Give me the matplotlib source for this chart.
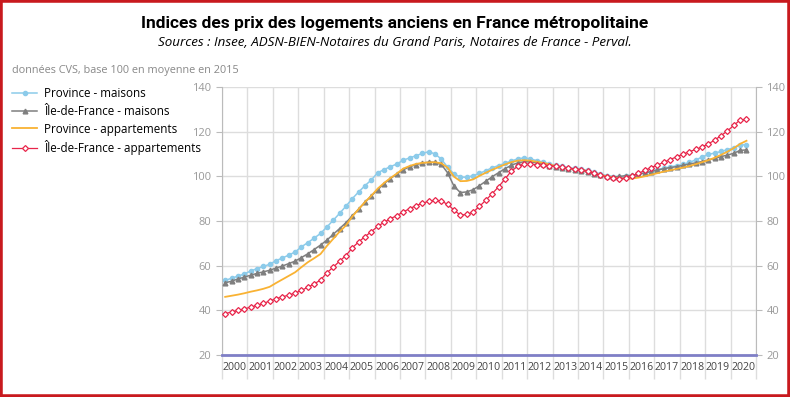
import numpy as np
import matplotlib.pyplot as plt
from matplotlib.patches import Rectangle

# quarterly indices, 2000T1 .. 2020T3 (base 100 = 2015)
years = list(range(2000, 2021))
quarters = [(y, q) for y in years for q in (1, 2, 3, 4)][:83]

province_maisons = [
    53.4, 54.3, 55.3, 56.2,
    57.6, 58.6, 59.6, 60.6,
    62.2, 63.4, 64.7, 66.1,
    68.4, 70.3, 72.3, 74.4,
    77.3, 80.3, 83.4, 86.6,
    90.0, 93.0, 95.8, 98.4,
    101.6, 103.0, 104.3, 105.5,
    107.2, 108.2, 109.2, 110.2,
    111.0, 110.0, 107.7, 104.0,
    101.0, 99.7, 99.5, 100.3,
    101.3, 102.5, 103.8, 104.8,
    105.8, 106.8, 107.8, 108.2,
    107.8, 107.0, 106.3, 105.5,
    104.9, 104.4, 103.9, 103.5,
    103.2, 102.6, 101.9, 101.0,
    100.3, 99.8, 99.5, 99.9,
    100.3, 100.9, 101.5, 102.1,
    103.0, 103.6, 104.2, 104.7,
    105.3, 106.2, 107.3, 108.6,
    109.8, 110.4, 111.1, 111.9,
    112.8, 113.9, 114.2,
]

idf_maisons = [
    52.3, 53.0, 54.0, 54.8,
    55.7, 56.5, 57.2, 57.9,
    58.9, 59.8, 60.9, 62.0,
    63.6, 65.3, 67.2, 69.2,
    71.4, 74.0, 76.6, 79.2,
    82.3, 85.3, 88.4, 91.2,
    94.0, 96.7, 99.0, 101.0,
    102.9, 104.2, 105.2, 105.9,
    106.3, 106.2, 105.3, 101.5,
    95.5, 92.7, 93.0, 94.0,
    95.8, 97.8, 99.8, 101.6,
    103.4, 104.9, 106.0, 106.5,
    106.5, 106.0, 105.4, 104.8,
    104.3, 103.8, 103.3, 102.8,
    102.4, 101.8, 101.1, 100.4,
    100.0, 99.8, 99.9, 100.3,
    100.4, 100.9, 101.5, 102.1,
    102.8, 103.4, 103.9, 104.3,
    104.9, 105.5, 106.0, 106.6,
    107.3, 108.0, 108.8, 109.5,
    110.3, 111.6, 111.8,
]

province_apparts = [
    46.0, 46.5, 47.0, 47.6,
    48.3, 48.9, 49.6, 50.5,
    52.2, 53.8, 55.4, 57.0,
    59.3, 61.5, 63.3, 65.2,
    68.8, 72.0, 75.2, 78.0,
    82.0, 85.3, 88.5, 91.3,
    94.5, 97.0, 99.2, 101.2,
    103.4, 104.6, 105.5, 106.0,
    106.2, 106.3, 105.8, 103.8,
    99.8, 97.8, 97.9, 98.6,
    100.2, 101.6, 102.9, 104.1,
    105.3, 106.3, 107.0, 107.2,
    107.0, 106.5, 106.0, 105.3,
    104.6, 104.0, 103.5, 103.2,
    102.9, 102.3, 101.5, 100.6,
    100.0, 99.4, 99.0, 98.9,
    99.0, 99.4, 100.0, 100.7,
    101.4, 102.1, 102.7, 103.3,
    103.9, 104.6, 105.4, 106.3,
    107.2, 108.3, 109.6, 111.0,
    112.6, 114.5, 115.9,
]

idf_apparts = [
    38.5, 39.2, 39.9, 40.6,
    41.4, 42.2, 43.1, 44.1,
    45.2, 46.0, 46.8, 47.7,
    48.9, 50.3, 51.8, 53.5,
    56.8, 59.3, 62.0, 64.5,
    68.0, 70.6, 73.0, 75.2,
    77.6, 79.4, 81.0, 82.4,
    84.0, 85.5, 86.8, 87.9,
    88.8, 89.2, 88.8, 87.5,
    84.8, 82.6, 82.9, 84.0,
    86.5, 89.3, 92.2, 95.3,
    98.7, 102.3, 104.4, 105.3,
    105.4, 105.2, 104.9, 104.7,
    104.5, 104.1, 103.6, 103.3,
    103.0, 102.2, 101.3, 100.5,
    99.8, 99.2, 98.9, 99.3,
    100.2, 101.3, 102.6, 103.9,
    105.0, 106.3, 107.5, 108.7,
    109.9, 111.0, 112.0, 113.1,
    114.5, 116.2, 118.2, 120.3,
    122.8, 125.2, 125.5,
]

labels = ["Province - maisons", "Île-de-France - maisons",
          "Province - appartements", "Île-de-France - appartements"]

plt.rcParams['font.family'] = ['Open Sans', 'DejaVu Sans']

t = np.array([y + (q - 0.5) / 4 for y, q in quarters])

fig = plt.figure(figsize=(7.9, 3.97), dpi=100)
ax = fig.add_axes([0.281, 0.106, 0.676, 0.675])

ax.plot(t, province_maisons, color='#8ccbea', lw=1.1, marker='o', ms=3.0,
        mec='#8ccbea', label=labels[0], zorder=3)
ax.plot(t, idf_maisons, color='#7f7f7f', lw=1.1, marker='^', ms=3.4,
        mec='#7f7f7f', label=labels[1], zorder=4)
ax.plot(t, province_apparts, color='#f9b233', lw=1.3, label=labels[2], zorder=5)
ax.plot(t, idf_apparts, color='#e8254a', lw=0.9, marker='D', ms=3.0,
        mfc='white', mec='#e8254a', mew=0.9, label=labels[3], zorder=6)

ax.set_xlim(2000, 2021)
ax.set_ylim(20, 140)

# year grid lines reach below the axis like separators
ax.set_xticks(np.arange(2000, 2022))
ax.set_xticklabels([])
ax.tick_params(axis='x', which='major', length=17, color='#dddddd', width=1)
ax.set_xticks(np.arange(2000.5, 2021), minor=True)
ax.set_xticklabels([str(y) for y in years], minor=True, fontsize=7.6, color='#444444')
ax.tick_params(axis='x', which='minor', length=0, pad=5)

ax.set_yticks(range(20, 141, 20))
ax.tick_params(axis='y', labelsize=8, labelcolor='#999999', color='#bbbbbb',
               length=4, labelright=True, right=True)
ax.grid(True, which='major', color='#dddddd', lw=1)
ax.set_axisbelow(True)

ax.spines['top'].set_visible(False)
for s in ('left', 'right'):
    ax.spines[s].set_color('#bbbbbb')
ax.spines['bottom'].set_color('#7f7fc6')
ax.spines['bottom'].set_linewidth(2)

fig.legend(loc='upper left', bbox_to_anchor=(0.004, 0.805), frameon=False,
           fontsize=8.4, handlelength=2.1, labelspacing=0.42, handletextpad=0.6,
           borderpad=0.3)

fig.text(0.5, 0.93, "Indices des prix des logements anciens en France métropolitaine",
         ha='center', fontsize=12.5, fontweight='bold', fontstretch='condensed',
         family=['Roboto', 'DejaVu Sans'])
fig.text(0.5, 0.885, "Sources : Insee, ADSN-BIEN-Notaires du Grand Paris, Notaires de France - Perval.",
         ha='center', fontsize=9.6, style='italic')
fig.text(0.015, 0.815, "données CVS, base 100 en moyenne en 2015", fontsize=7.8, color='#888888')

fig.patches.append(Rectangle((0, 0), 1, 1, transform=fig.transFigure, fill=False,
                             edgecolor='#c8191e', lw=4))

fig.savefig('out.png', dpi=100)
